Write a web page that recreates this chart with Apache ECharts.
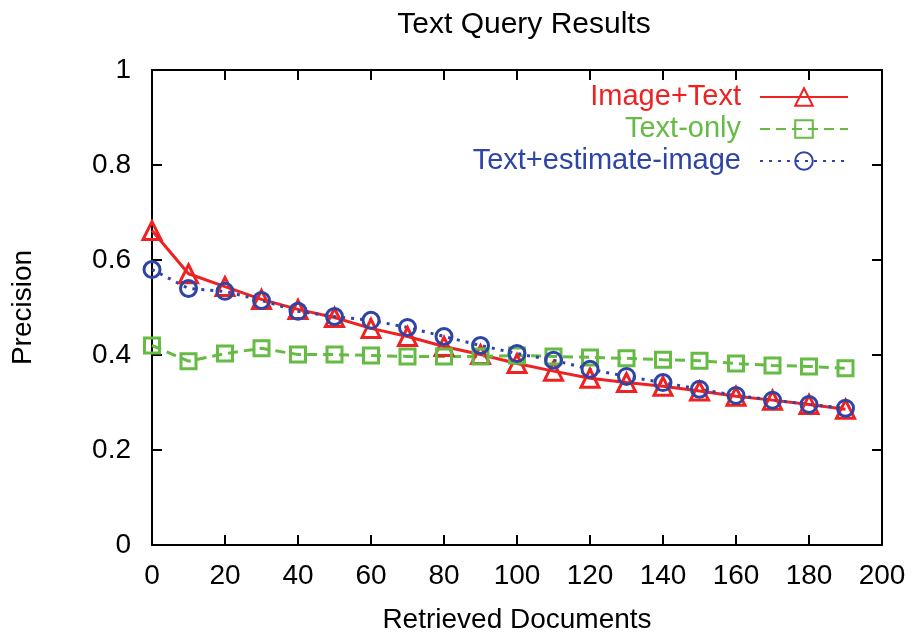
<!DOCTYPE html>
<html>
<head>
<meta charset="utf-8">
<script src="https://cdn.jsdelivr.net/npm/echarts@6/dist/echarts.min.js"></script>
<style>
  html, body { margin: 0; padding: 0; background: #fff; }
  #chart { width: 920px; height: 639px; }
</style>
</head>
<body>
<div id="chart"></div>
<script>
// retrieved documents (x)
const docs = [0, 10, 20, 30, 40, 50, 60, 70, 80, 90, 100, 110, 120, 130, 140, 150, 160, 170, 180, 190]
// precision per series
const imageText = [0.662, 0.571, 0.544, 0.517, 0.496, 0.479, 0.456, 0.439, 0.418, 0.401, 0.382, 0.366, 0.351, 0.342, 0.334, 0.324, 0.313, 0.305, 0.296, 0.286]
const textOnly = [0.420, 0.387, 0.403, 0.414, 0.401, 0.401, 0.399, 0.397, 0.397, 0.397, 0.399, 0.397, 0.395, 0.393, 0.390, 0.388, 0.382, 0.378, 0.376, 0.372]
const textEstImage = [0.580, 0.540, 0.534, 0.515, 0.492, 0.481, 0.473, 0.458, 0.439, 0.420, 0.403, 0.389, 0.370, 0.355, 0.342, 0.328, 0.315, 0.305, 0.296, 0.288]

const font = 'Liberation Sans, Arial, Helvetica, sans-serif'
const red = '#ee2222', green = '#66bb44', blue = '#2e45a5'

const pairs = ys => docs.map((x, i) => [x, ys[i]])

function mkSeries(name, ys, color, symbol, size, type) {
  return {
    name: name,
    type: 'line',
    data: pairs(ys),
    symbol: symbol,
    symbolSize: size,
    lineStyle: { color: color, width: 3, type: type },
    itemStyle: { color: 'rgba(255,255,255,0)', borderColor: color, borderWidth: 3 },
    emphasis: { disabled: true },
    animation: false
  }
}

const axisCommon = {
  axisLine: { show: true, onZero: false, lineStyle: { color: '#000', width: 2 } },
  axisTick: { show: true, inside: true, length: 10, lineStyle: { color: '#000', width: 2 } },
  splitLine: { show: false }
}

const option = {
  backgroundColor: '#fff',
  title: {
    text: 'Text Query Results',
    left: 519, top: 5, textAlign: 'center',
    textStyle: { fontFamily: font, fontSize: 30, fontWeight: 'normal', color: '#000' }
  },
  grid: { left: 152, right: 38, top: 70, bottom: 93 },
  legend: {
    orient: 'vertical',
    right: 71, top: 81, padding: 0,
    align: 'right',
    itemWidth: 88, itemHeight: 22, itemGap: 0,
    textStyle: { fontFamily: font, fontSize: 29, lineHeight: 32, padding: [0, 14, 0, 0] },
    data: [
      { name: 'Image+Text', textStyle: { color: red } },
      { name: 'Text-only', textStyle: { color: green } },
      { name: 'Text+estimate-image', textStyle: { color: blue } }
    ]
  },
  xAxis: [
    Object.assign({
      type: 'value', min: 0, max: 200, interval: 20,
      name: 'Retrieved Documents', nameLocation: 'middle', nameGap: 61,
      nameTextStyle: { fontFamily: font, fontSize: 28, color: '#000' },
      axisLabel: { fontFamily: font, fontSize: 28, color: '#000', margin: 17 }
    }, axisCommon),
    Object.assign({
      type: 'value', min: 0, max: 200, interval: 20, position: 'top',
      axisLabel: { show: false }
    }, axisCommon)
  ],
  yAxis: [
    Object.assign({
      type: 'value', min: 0, max: 1, interval: 0.2,
      name: 'Precision', nameLocation: 'middle', nameGap: 115,
      nameTextStyle: { fontFamily: font, fontSize: 28, color: '#000' },
      axisLabel: { fontFamily: font, fontSize: 28, color: '#000', margin: 21 }
    }, axisCommon),
    Object.assign({
      type: 'value', min: 0, max: 1, interval: 0.2, position: 'right',
      axisLabel: { show: false }
    }, axisCommon)
  ],
  series: [
    mkSeries('Image+Text', imageText, red, 'triangle', 18, 'solid'),
    mkSeries('Text-only', textOnly, green, 'rect', 15, [10, 6]),
    mkSeries('Text+estimate-image', textEstImage, blue, 'circle', 16, [3, 6])
  ]
}

const chart = echarts.init(document.getElementById('chart'))
chart.setOption(option)
</script>
</body>
</html>
